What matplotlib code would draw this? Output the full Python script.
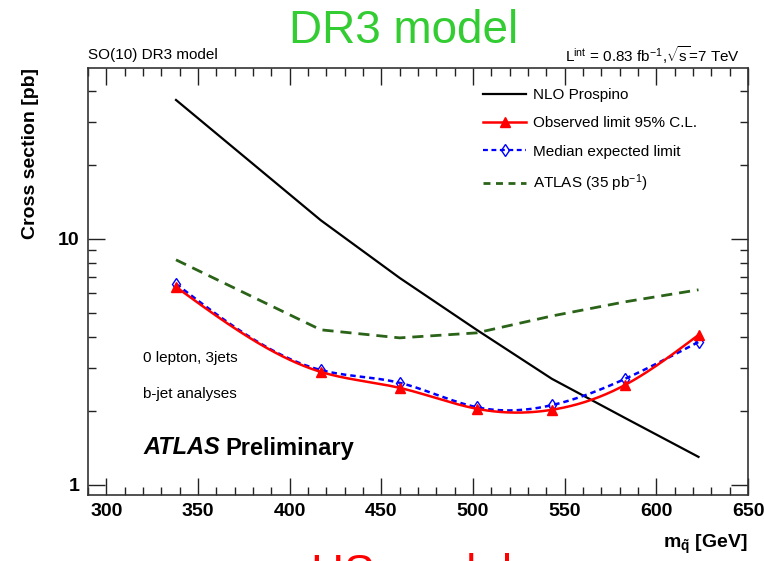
import numpy as np
import matplotlib
matplotlib.use("Agg")
import matplotlib.pyplot as plt
from matplotlib.ticker import FixedLocator, MultipleLocator, NullFormatter

plt.rcParams['font.family'] = ['Liberation Sans', 'DejaVu Sans']
plt.rcParams['mathtext.fontset'] = 'custom'
plt.rcParams['mathtext.rm'] = 'Liberation Sans'
plt.rcParams['mathtext.it'] = 'Liberation Sans:italic'
plt.rcParams['mathtext.bf'] = 'Liberation Sans:bold'

# ---- data ----
mass = [338, 417, 460, 502, 543, 583, 623]
nlo_prospino = [36.7, 11.9, 6.94, 4.27, 2.70, 1.87, 1.30]
observed = [6.38, 2.88, 2.48, 2.04, 2.02, 2.55, 4.07]
expected = [6.56, 2.93, 2.60, 2.07, 2.11, 2.70, 3.81]
atlas35 = [8.22, 4.27, 3.96, 4.15, 4.86, 5.55, 6.21]

x_ticks = [300, 350, 400, 450, 500, 550, 600, 650]
y_ticks = [1, 10]
y_ticklabels = ["1", "10"]


def smooth(xs, ys, n=300):
    """Natural cubic spline through the points (in log y) for drawing a smooth curve."""
    x = np.asarray(xs, float)
    y = np.log10(np.asarray(ys, float))
    m = len(x)
    h = np.diff(x)
    A = np.zeros((m, m))
    b = np.zeros(m)
    A[0, 0] = A[-1, -1] = 1
    for i in range(1, m - 1):
        A[i, i - 1] = h[i - 1]
        A[i, i] = 2 * (h[i - 1] + h[i])
        A[i, i + 1] = h[i]
        b[i] = 3 * ((y[i + 1] - y[i]) / h[i] - (y[i] - y[i - 1]) / h[i - 1])
    c = np.linalg.solve(A, b)
    xx = np.linspace(x[0], x[-1], n)
    idx = np.clip(np.searchsorted(x, xx) - 1, 0, m - 2)
    dx = xx - x[idx]
    bb = (y[idx + 1] - y[idx]) / h[idx] - h[idx] * (2 * c[idx] + c[idx + 1]) / 3
    dd = (c[idx + 1] - c[idx]) / (3 * h[idx])
    yy = y[idx] + bb * dx + c[idx] * dx ** 2 + dd * dx ** 3
    return xx, 10 ** yy


fig = plt.figure(figsize=(7.64, 5.61), dpi=100)
ax = fig.add_axes([88 / 764, 1 - 495 / 561, (748 - 88) / 764, (495 - 68) / 561])

green = '#2b6319'
ax.plot(mass, nlo_prospino, color='black', lw=1.6)

ex, ey = smooth(mass, expected)
ax.plot(ex, ey, color='blue', lw=1.8, ls=(0, (2.2, 1.6)))
ax.plot(mass, expected, ls='none', marker='d', ms=6, mfc='none', mec='blue', mew=1.0)

ox, oy = smooth(mass, observed)
ax.plot(ox, oy, color='red', lw=1.8)
ax.plot(mass, observed, ls='none', marker='^', ms=7, color='red')

ax.plot(mass, atlas35, color=green, lw=2.0, ls=(0, (4, 2.5)))

# legend handles
h1, = ax.plot([], [], color='black', lw=1.6)
h2, = ax.plot([], [], color='red', lw=1.8, marker='^', ms=7)
h3, = ax.plot([], [], color='blue', lw=1.6, ls=(0, (2.2, 1.6)), marker='d', ms=6, mfc='none', mec='blue', mew=1.0)
h4, = ax.plot([], [], color=green, lw=2.0, ls=(0, (2.5, 2.0)))
ax.legend([h1, h2, h3, h4],
          ['NLO Prospino', 'Observed limit 95% C.L.', 'Median expected limit', 'ATLAS (35 pb$^{-1}$)'],
          loc='upper left', bbox_to_anchor=(0.578, 0.985), frameon=False, fontsize=11,
          handlelength=2.8, labelspacing=0.93, handletextpad=0.45)

ax.set_yscale('log')
ax.set_xlim(290, 650)
ax.set_ylim(0.91, 49.5)

ax.xaxis.set_major_locator(FixedLocator(x_ticks))
ax.xaxis.set_minor_locator(MultipleLocator(10))
ax.yaxis.set_major_locator(FixedLocator(y_ticks))
ax.set_yticklabels(y_ticklabels)
minor_y = [v * d for d in (1, 10) for v in range(2, 10)]
ax.yaxis.set_minor_locator(FixedLocator(minor_y))
ax.yaxis.set_minor_formatter(NullFormatter())

ax.tick_params(which='both', direction='in', top=True, right=True, width=1.0, color='#222222')
ax.tick_params(which='major', length=12, labelsize=14, pad=6)
ax.tick_params(which='minor', length=6)
for lab in ax.get_xticklabels() + ax.get_yticklabels():
    lab.set_fontweight('bold')
for s in ax.spines.values():
    s.set_linewidth(1.2)
    s.set_color('#333333')

ax.set_ylabel('Cross section [pb]', fontsize=14, fontweight='bold', loc='top', labelpad=14)
ax.set_xlabel(r'm$_{\mathbf{\tilde{q}}}$ [GeV]', fontsize=14, fontweight='bold', loc='right', labelpad=9)

fig.text(143 / 764, 1 - 358 / 561, '0 lepton, 3jets', fontsize=11, va='center')
fig.text(143 / 764, 1 - 394 / 561, 'b-jet analyses', fontsize=11, va='center')
t_atlas = fig.text(143 / 764, 1 - 448 / 561, 'ATLAS', fontsize=17, fontweight='bold', style='italic', va='center')
fig.canvas.draw()
bb = t_atlas.get_window_extent()
fig.text(bb.x1 / fig.bbox.width + 6 / 764, 1 - 448 / 561, 'Preliminary', fontsize=17, fontweight='bold', va='center')

fig.text(88 / 764, 1 - 55 / 561, 'SO(10) DR3 model', fontsize=11, va='center')
fig.text(740 / 764, 1 - 55 / 561, r'L$^{\rm int}$ = 0.83 fb$^{-1}$,$\sqrt{\rm s}$=7 TeV', fontsize=11,
         va='center', ha='right')

fig.text(404 / 764, 1 - 31 / 561, 'DR3 model', fontsize=33, color='#33cc33', ha='center', va='center')
fig.text(412 / 764, -26 / 561, 'HS model', fontsize=33, color='red', ha='center', va='baseline')

fig.savefig('out.png', dpi=100)
